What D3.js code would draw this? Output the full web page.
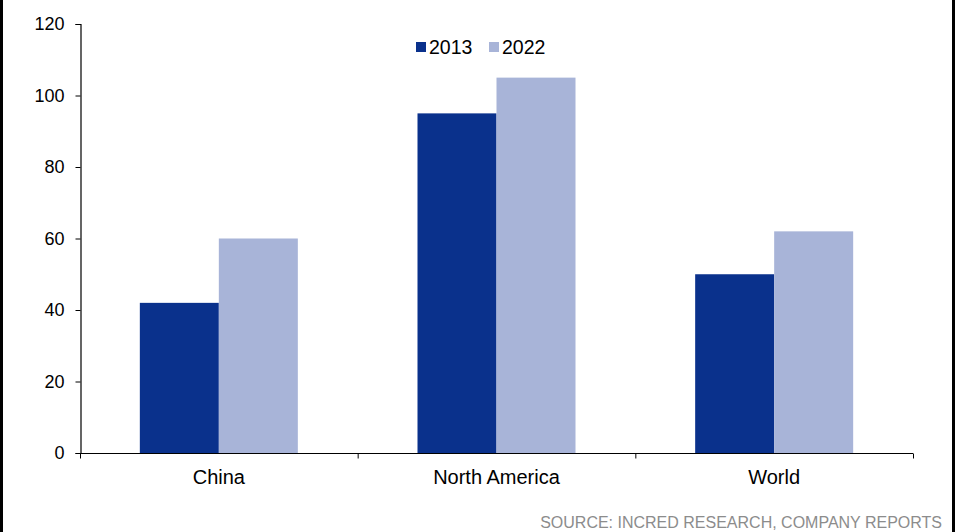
<!DOCTYPE html>
<html>
<head>
<meta charset="utf-8">
<script src="https://cdn.jsdelivr.net/npm/d3@7/dist/d3.min.js"></script>
<style>
  html, body { margin: 0; padding: 0; background: #fff; }
  svg { display: block; }
  text { font-family: "Liberation Sans", Arial, sans-serif; }
</style>
</head>
<body>
<svg id="chart" width="957" height="532"></svg>
<script>
// Chart data
const categories = ["China", "North America", "World"];
const seriesNames = ["2013", "2022"];
const values2013 = [42, 95, 50];
const values2022 = [60, 105, 62];
const yTicks = [0, 20, 40, 60, 80, 100, 120];
const sourceText = "SOURCE: INCRED RESEARCH, COMPANY REPORTS";

const colors = { "2013": "#0a318c", "2022": "#a8b4d8" };
const seriesValues = { "2013": values2013, "2022": values2022 };

const svg = d3.select("#chart");
const W = 957, H = 532;

// Outer frame lines on left and right
svg.append("rect").attr("x", 0).attr("y", 0).attr("width", 3).attr("height", H).attr("fill", "#000");
svg.append("rect").attr("x", 952).attr("y", 0).attr("width", 3).attr("height", H).attr("fill", "#000");

const plot = { left: 80, right: 913, top: 24, bottom: 453 };

const x = d3.scaleBand().domain(categories).range([plot.left, plot.right]).paddingInner(0).paddingOuter(0);
const xs = d3.scaleBand().domain(seriesNames).range([0, 158]);
const y = d3.scaleLinear().domain([0, 120]).range([plot.bottom, plot.top]);

// Bars
const groups = svg.append("g").selectAll("g")
  .data(categories)
  .join("g")
  .attr("transform", d => `translate(${x(d) + (x.bandwidth() - 158) / 2},0)`);

groups.selectAll("rect")
  .data((c, i) => seriesNames.map(s => ({ s, v: seriesValues[s][i] })))
  .join("rect")
  .attr("x", d => xs(d.s))
  .attr("width", xs.bandwidth())
  .attr("y", d => y(d.v))
  .attr("height", d => y(0) - y(d.v))
  .attr("fill", d => colors[d.s]);

// Y axis
const yAxis = svg.append("g")
  .attr("transform", `translate(${plot.left + 0.5},0)`)
  .call(d3.axisLeft(y).tickValues(yTicks).tickSize(5).tickPadding(11));
yAxis.select(".domain").attr("stroke", "#000").attr("stroke-width", 1.2);
yAxis.selectAll(".tick line").attr("stroke", "#000");
yAxis.selectAll(".tick text").attr("font-size", 18).attr("fill", "#000");

// X axis with ticks at category boundaries
const xAxisG = svg.append("g").attr("transform", `translate(0,${plot.bottom + 0.5})`);
xAxisG.append("line")
  .attr("x1", plot.left).attr("x2", plot.right)
  .attr("stroke", "#000").attr("stroke-width", 1.2);
const boundaries = categories.map(c => x(c)).concat([x(categories[categories.length - 1]) + x.bandwidth()]);
xAxisG.selectAll("line.tick")
  .data(boundaries)
  .join("line")
  .attr("class", "tick")
  .attr("x1", d => d + 0.5).attr("x2", d => d + 0.5)
  .attr("y1", 0).attr("y2", 5)
  .attr("stroke", "#000");
xAxisG.selectAll("text")
  .data(categories)
  .join("text")
  .attr("x", d => x(d) + x.bandwidth() / 2)
  .attr("y", 30)
  .attr("text-anchor", "middle")
  .attr("font-size", 20)
  .attr("fill", "#000")
  .text(d => d);

// Legend
const legend = svg.append("g").attr("transform", "translate(416,42)");
const legendOffsets = [0, 73];
seriesNames.forEach((s, i) => {
  const g = legend.append("g").attr("transform", `translate(${legendOffsets[i]},0)`);
  g.append("rect").attr("width", 10).attr("height", 10).attr("fill", colors[s]);
  g.append("text").attr("x", 13).attr("y", 11.5).attr("font-size", 19.5).attr("fill", "#000").text(s);
});

// Source note
svg.append("text")
  .attr("x", 942).attr("y", 528)
  .attr("text-anchor", "end")
  .attr("font-size", 16)
  .attr("fill", "#8c8c8c")
  .text(sourceText);
</script>
</body>
</html>
